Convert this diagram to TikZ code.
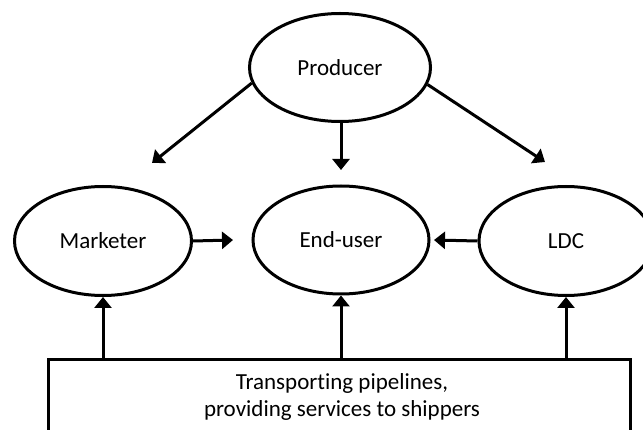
\documentclass[tikz,border=0pt]{standalone}
\usepackage{fontspec}
\setmainfont{Carlito}[Ligatures={NoCommon}]
\usetikzlibrary{arrows.meta,shapes.geometric}
\begin{document}
\begin{tikzpicture}[x=1pt,y=-1pt,
  actor/.style={draw, ellipse, line width=3pt, inner sep=0pt, font=\fontsize{23}{27}\selectfont},
  arr/.style={line width=3pt, -{Triangle[width=17pt,length=11pt]}},
  pipebox/.style={draw, line width=3pt, inner sep=0pt}]
\useasboundingbox (0,0) rectangle (643,430);
\clip (0,0) rectangle (643,430);
\node[actor, minimum width=181pt, minimum height=108pt] (prod) at (340,67.5) {Producer};
\node[actor, minimum width=177pt, minimum height=109pt] (mk) at (103,241) {Marketer};
\node[actor, minimum width=176pt, minimum height=108pt] (eu) at (341,240) {End-user};
\node[actor, minimum width=174pt, minimum height=109pt] (ldc) at (566,241) {LDC};
\node[pipebox, minimum width=582pt, minimum height=100pt, anchor=north] (pipe) at (339.5,358) {};
\node[font=\fontsize{23}{27}\selectfont, align=center] (pipetext) at (342,396.5) {Transporting pipelines,\\providing services to shippers};
\coordinate (tipL) at (152,163);
\coordinate (tipM) at (341,170);
\coordinate (tipR) at (545,162);
\coordinate (tipMk) at (233,240);
\coordinate (tipLdc) at (434,240);
\draw[arr] (prod.190) -- (tipL);
\draw[arr] (prod.south -| tipM) -- (tipM);
\draw[arr] (prod.349) -- (tipR);
\draw[arr] (mk.east) -- (tipMk);
\draw[arr] (ldc.west) -- (tipLdc);
\draw[arr] (pipe.north -| mk.south) -- (mk.south);
\draw[arr] (pipe.north -| eu.south) -- (eu.south);
\draw[arr] (pipe.north -| ldc.south) -- (ldc.south);
\end{tikzpicture}
\end{document}
